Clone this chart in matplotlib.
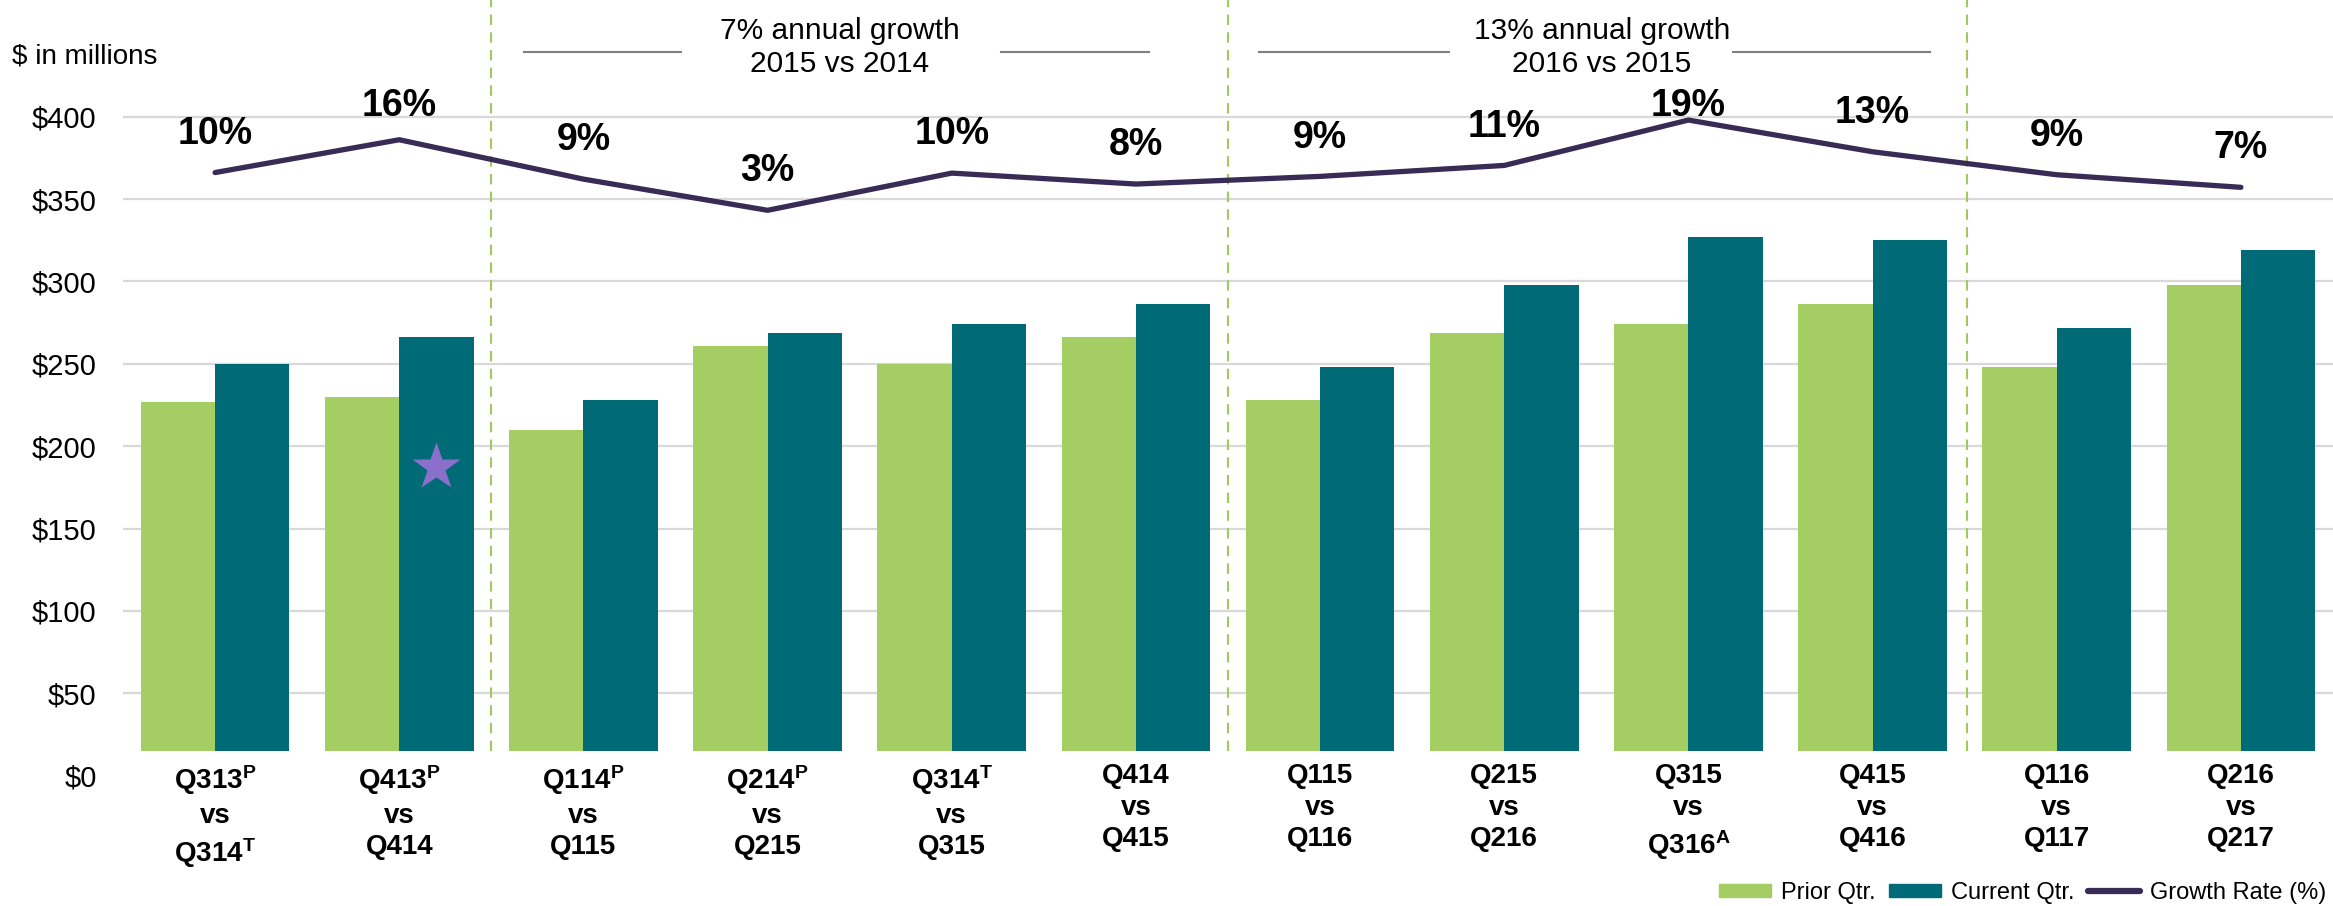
import numpy as np
import matplotlib
matplotlib.use("Agg")
import matplotlib.pyplot as plt
from matplotlib.patches import Patch
from matplotlib.lines import Line2D

plt.rcParams['font.family'] = ['Liberation Sans', 'DejaVu Sans']
plt.rcParams['mathtext.fontset'] = 'custom'
plt.rcParams['mathtext.rm'] = 'Liberation Sans:bold'
plt.rcParams['mathtext.it'] = 'Liberation Sans:bold'
plt.rcParams['mathtext.bf'] = 'Liberation Sans:bold'

# data
quarters = [
    "Q313$^{\\rm P}$\nvs\nQ314$^{\\rm T}$",
    "Q413$^{\\rm P}$\nvs\nQ414",
    "Q114$^{\\rm P}$\nvs\nQ115",
    "Q214$^{\\rm P}$\nvs\nQ215",
    "Q314$^{\\rm T}$\nvs\nQ315",
    "Q414\nvs\nQ415",
    "Q115\nvs\nQ116",
    "Q215\nvs\nQ216",
    "Q315\nvs\nQ316$^{\\rm A}$",
    "Q415\nvs\nQ416",
    "Q116\nvs\nQ117",
    "Q216\nvs\nQ217",
]
prior = [227.0, 229.9, 209.6, 261.0, 249.7, 266.3, 227.8, 268.5, 274.0, 286.5, 248.1, 298.0]
current = [249.7, 266.3, 227.8, 268.5, 274.0, 286.5, 248.1, 298.0, 326.8, 325.2, 271.7, 319.3]
growth = [9.9, 15.9, 8.7, 3.0, 9.8, 7.8, 9.2, 11.2, 19.5, 13.7, 9.5, 7.2]
growth_labels = ['10%', '16%', '9%', '3%', '10%', '8%', '9%', '11%', '19%', '13%', '9%', '7%']
yticks = [0, 50, 100, 150, 200, 250, 300, 350, 400]
ytick_labels = ['$' + str(v) for v in yticks]
annual = [
    ("7% annual growth\n2015 vs 2014", 3.39, [(1.68, 2.53), (4.27, 5.07)]),
    ("13% annual growth\n2016 vs 2015", 7.53, [(5.67, 6.70), (8.24, 9.31)]),
]
dividers = [1.5, 5.5, 9.51]

GREEN = '#A4CE64'
TEAL = '#006B76'
PURPLE = '#382B55'
BASE = 15
YTOP = 470.8
W = 0.404

fig = plt.figure(figsize=(23.33, 9.06), dpi=100)
ax = fig.add_axes([123 / 2333, 130.3 / 906, 1 - 123 / 2333, 1 - 130.3 / 906])
ax.set_xlim(-0.5, 11.5)
ax.set_ylim(0, YTOP)

x = np.arange(len(quarters))
for y in yticks[1:]:
    ax.axhline(y, color='#D9D9D9', lw=1.6, zorder=0)

ax.bar(x - W / 2, np.array(prior) - BASE, W, bottom=BASE, color=GREEN, zorder=2)
ax.bar(x + W / 2, np.array(current) - BASE, W, bottom=BASE, color=TEAL, zorder=2)

# star on the Q413 bar
ax.plot(1 + W / 2, 187.6, marker='*', ms=36, color='#8A6FCB', mec='none', zorder=3)

for xv in dividers:
    ax.plot([xv, xv], [BASE, YTOP], color='#A2C95C', lw=1.5, ls=(0, (5, 3.5)),
            clip_on=False, zorder=1)

for txt, cx, segs in annual:
    ax.text(cx, 442, txt, ha='center', va='center', fontsize=21.5, linespacing=1.22)
    for a, b in segs:
        ax.plot([a, b], [439.3, 439.3], color='#7F7F7F', lw=1.5)

ax.set_yticks(yticks)
ax.set_yticklabels(ytick_labels, fontsize=21)
ax.set_xticks(x)
ax.set_xticklabels(quarters, fontsize=20, fontweight='bold', linespacing=1.28)
ax.tick_params(axis='y', length=0, pad=19)
ax.tick_params(axis='x', length=0, pad=-9)
for s in ax.spines.values():
    s.set_visible(False)

# growth line on a hidden secondary scale
ax2 = ax.twinx()
ax2.set_ylim(-333.2 / 3.32, (YTOP - 333.2) / 3.32)
ax2.axis('off')
ax2.plot(x, growth, color=PURPLE, lw=3.8, solid_capstyle='round', zorder=4)
for i, (g, lbl) in enumerate(zip(growth, growth_labels)):
    ax2.text(i, min(g + 7.1, 22.1), lbl, ha='center', va='center',
             fontsize=27, fontweight='bold')

fig.text(12 / 2333, 1 - 57 / 906, "$ in millions", va='center', fontsize=20)

handles = [Patch(color=GREEN), Patch(color=TEAL),
           Line2D([], [], color=PURPLE, lw=4.5, solid_capstyle='round')]
fig.legend(handles, ['Prior Qtr.', 'Current Qtr.', 'Growth Rate (%)'],
           loc='center right', bbox_to_anchor=(0.997, 13 / 906), ncol=3,
           frameon=False, fontsize=17, handlelength=2.2, handleheight=0.5,
           handletextpad=0.4, columnspacing=0.6, borderpad=0, borderaxespad=0)

fig.savefig('out.png', dpi=100)
